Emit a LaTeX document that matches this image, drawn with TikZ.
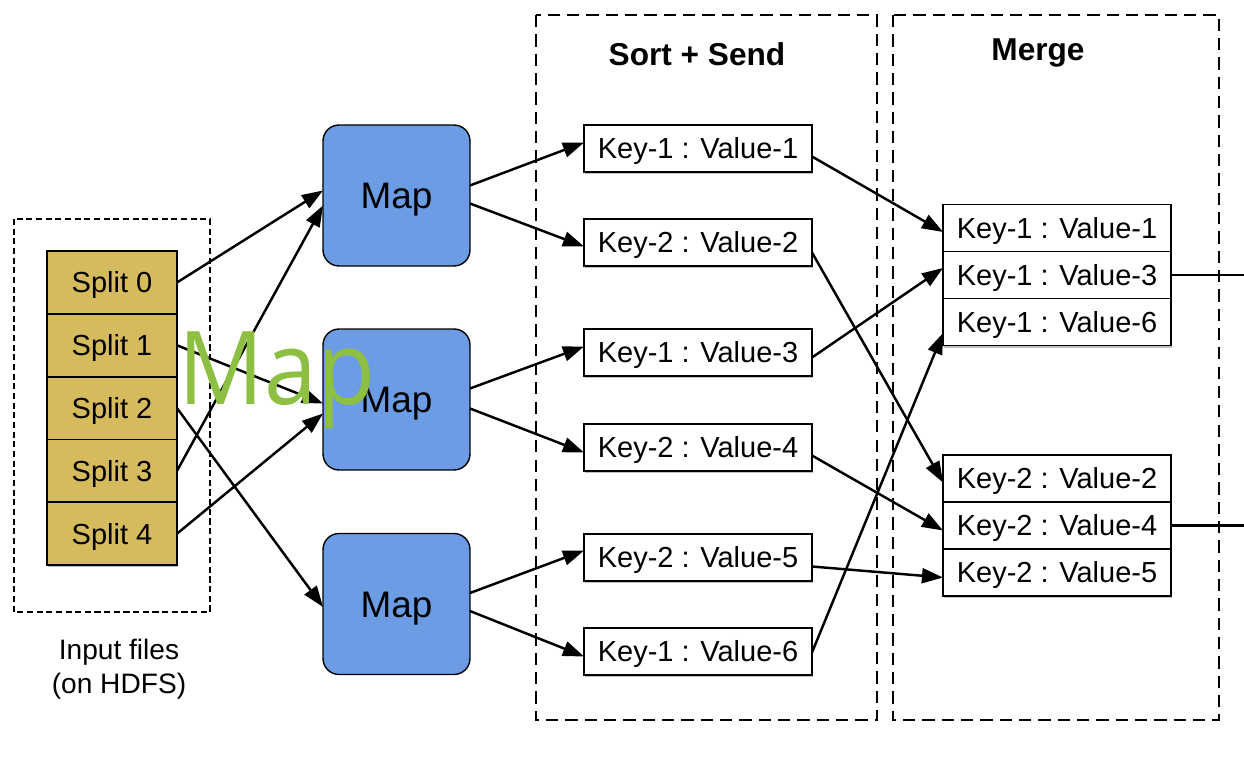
\documentclass[tikz,border=0pt]{standalone}
\usepackage{fontspec}
\setmainfont{Liberation Sans}
\newfontfamily\overlayfont{Open Sans}
\usetikzlibrary{shapes,arrows.meta,calc,shadows}
\usetikzlibrary{positioning}

\definecolor{splitgold}{RGB}{214,186,94}
\definecolor{mapblue}{RGB}{108,157,228}
\definecolor{overlaygreen}{RGB}{141,191,66}

\begin{document}
\begin{tikzpicture}[x=0.02cm,y=-0.02cm,
    every node/.style={inner sep=0pt,outer sep=0pt},
    softshadow/.style={drop shadow={shadow xshift=0.6pt,shadow yshift=-1.2pt,opacity=0.25,fill=black}},
    split/.style={draw,line width=1pt,fill=splitgold,minimum width=2.6cm,minimum height=1.256cm,
        font=\fontsize{16.5}{18}\selectfont,text height=11.8pt,text depth=0pt,softshadow},
    mapper/.style={draw,line width=0.8pt,fill=mapblue,rounded corners=0.32cm,minimum width=2.94cm,
        minimum height=2.82cm,font=\fontsize{21}{24}\selectfont,text height=15pt,text depth=0pt},
    pair/.style={draw,line width=1pt,fill=white,minimum width=4.56cm,minimum height=0.94cm,
        font=\fontsize{16.5}{18}\selectfont,text height=11.8pt,text depth=0pt,softshadow},
    stage/.style={font=\bfseries\fontsize{18}{21}\selectfont,text height=13pt,text depth=0pt},
    phase/.style={dash pattern=on 7pt off 4pt,line width=0.9pt},
    flow/.style={-{Triangle[length=12pt,width=8.5pt]},line width=1.4pt}
]
    \useasboundingbox[fill=white] (0,0) rectangle (1244,766);

    % dashed frames
    \draw[dash pattern=on 3.5pt off 2pt,line width=0.8pt] (14,219) rectangle (210,612);
    \draw[phase] (536,15) rectangle (877,720);
    \draw[phase] (893,15) rectangle (1219,720);
    \node[stage] (sorttitle) at (697,54) {Sort + Send};
    \node[stage] (mergetitle) at (1038,49) {Merge};

    % input splits
    \foreach \i in {0,...,4}
        \node[split] (s\i) at (112,282.5+62.8*\i) {Split \i};
    \node[align=center,font=\fontsize{16}{19.3}\selectfont] (inputlabel) at (119,669)
        {Input files\\(on HDFS)};

    % mappers
    \node[mapper] (map1) at (396.5,195.5) {Map};
    \node[mapper] (map2) at (396.5,399.5) {Map};
    \node[mapper] (map3) at (396.5,604) {Map};

    % sort + send
    \node[pair] (k11) at (698,148.5) {Key-1 : Value-1};
    \node[pair] (k22) at (698,242.5) {Key-2 : Value-2};
    \node[pair] (k13) at (698,352.5) {Key-1 : Value-3};
    \node[pair] (k24) at (698,447.5) {Key-2 : Value-4};
    \node[pair] (k25) at (698,557.5) {Key-2 : Value-5};
    \node[pair] (k16) at (698,651.5) {Key-1 : Value-6};

    % merge
    \node[pair] (m11) at (1057,228) {Key-1 : Value-1};
    \node[pair] (m13) at (1057,275) {Key-1 : Value-3};
    \node[pair] (m16) at (1057,322) {Key-1 : Value-6};
    \node[pair] (m22) at (1057,478.5) {Key-2 : Value-2};
    \node[pair] (m24) at (1057,525.5) {Key-2 : Value-4};
    \node[pair] (m25) at (1057,572.5) {Key-2 : Value-5};
    \coordinate (out1) at (1244,275);
    \coordinate (out2) at (1244,525.5);

    % splits -> mappers
    \draw[flow] (s0.east) -- ($(map1.west)+(0,-5)$);
    \draw[flow] (s3.east) -- ($(map1.west)+(0,10)$);
    \draw[flow] (s1.east) -- ($(map2.west)+(0,4)$);
    \draw[flow] (s4.east) -- ($(map2.west)+(0,14)$);
    \draw[flow] (s2.east) -- ($(map3.west)+(0,3)$);

    % mappers -> pairs
    \draw[flow] ($(map1.east)+(0,-10)$) -- ($(k11.west)+(0,-6)$);
    \draw[flow] ($(map1.east)+(0,8)$) -- ($(k22.west)+(0,4)$);
    \draw[flow] ($(map2.east)+(0,-11)$) -- ($(k13.west)+(0,-6)$);
    \draw[flow] ($(map2.east)+(0,9)$) -- ($(k24.west)+(0,5)$);
    \draw[flow] ($(map3.east)+(0,-11)$) -- ($(k25.west)+(0,-7)$);
    \draw[flow] ($(map3.east)+(0,7)$) -- ($(k16.west)+(0,5)$);

    % pairs -> merge
    \draw[flow] ($(k11.east)+(0,8)$) -- ($(m11.west)+(0,4)$);
    \draw[flow] ($(k22.east)+(0,10)$) -- ($(m22.west)+(0,4)$);
    \draw[flow] ($(k13.east)+(0,5)$) -- ($(m13.west)+(0,-7)$);
    \draw[flow] ($(k24.east)+(0,8)$) -- ($(m24.west)+(0,5)$);
    \draw[flow] ($(k25.east)+(0,9)$) -- ($(m25.west)+(0,5)$);
    \draw[flow] ($(k16.east)+(0,1)$) -- ($(m16.west)+(0,11)$);
    \draw[line width=1.4pt] (m13.east) -- (out1);
    \draw[line width=1.4pt] (m24.east) -- (out2);

    % overlay label
    \node[anchor=base,text=overlaygreen,xscale=0.93,font=\overlayfont\fontsize{58}{60}\selectfont]
        (overlay) at (277,405) {Map};
\end{tikzpicture}
\end{document}
